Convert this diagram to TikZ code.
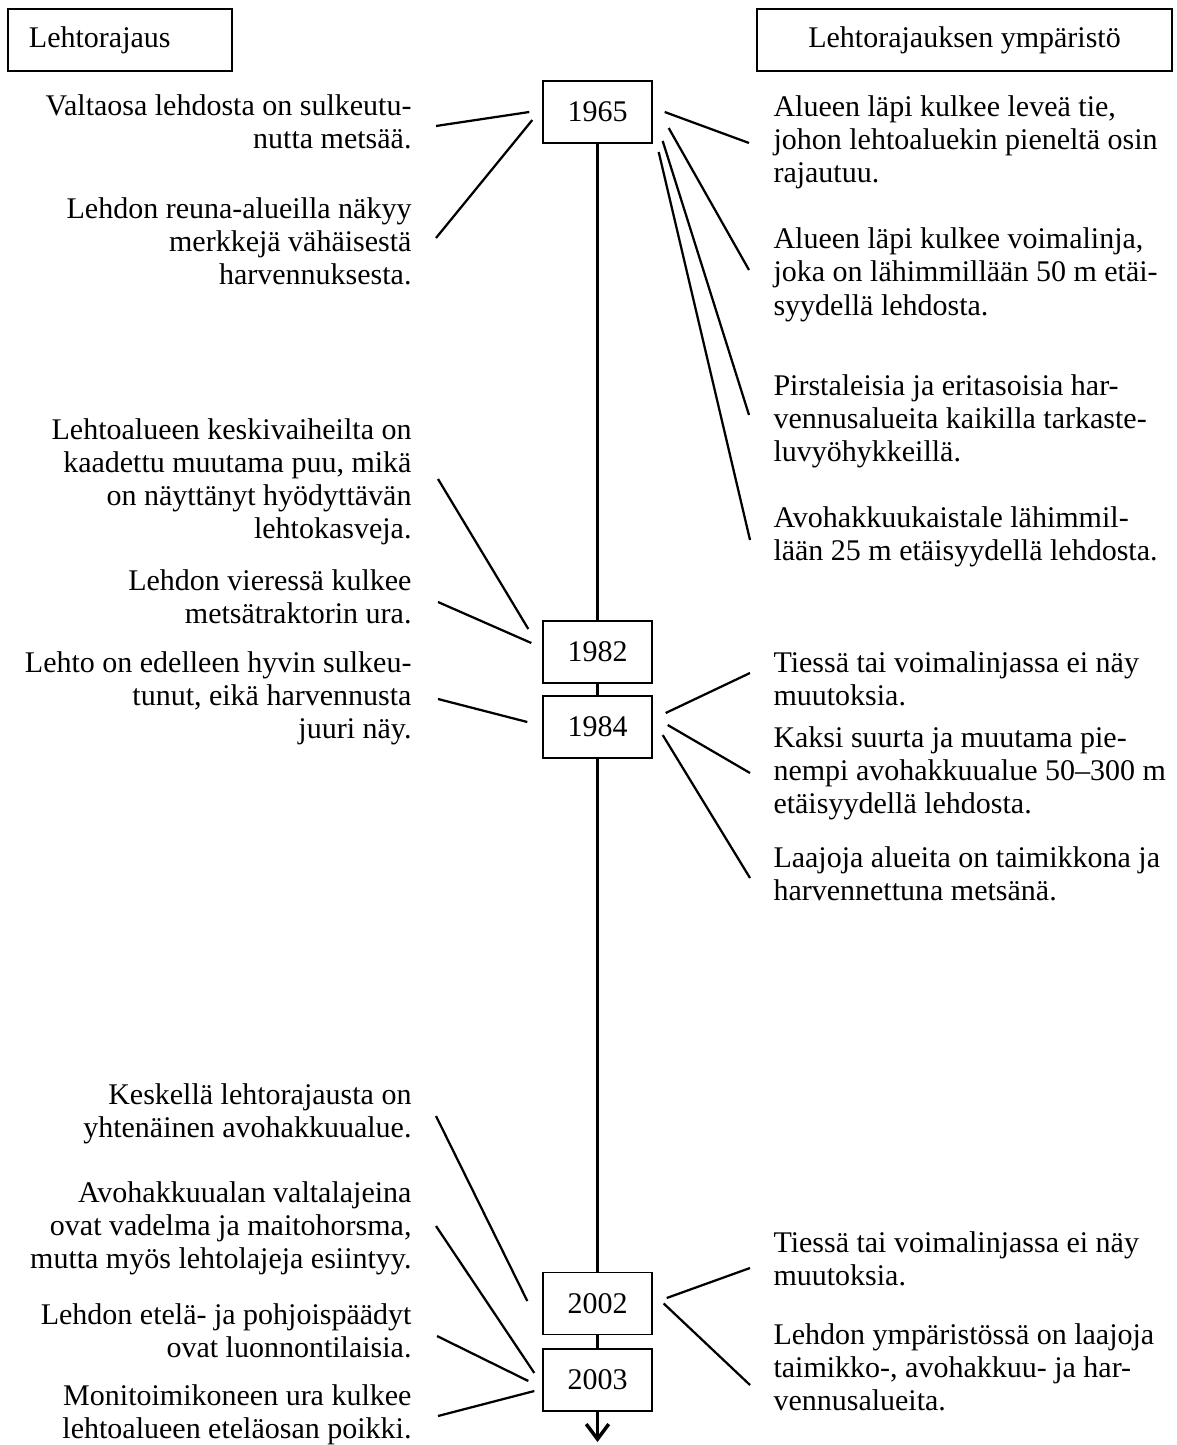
\documentclass[tikz,border=0pt]{standalone}
\usepackage{fontspec}
\setmainfont{Liberation Serif}
\usetikzlibrary{arrows.meta,calc}

\tikzset{
  yearbox/.style={draw,line width=0.55pt,fill=white,minimum width=43.6pt,minimum height=24.8pt,inner sep=0pt},
  headbox/.style={draw,line width=0.55pt,minimum height=24.8pt,inner sep=0pt},
  lefttxt/.style={anchor=base east,align=right,inner sep=0pt},
  righttxt/.style={anchor=base west,align=left,inner sep=0pt},
  conn/.style={line width=0.9pt},
  timeaxis/.style={line width=1.4pt}
}

\begin{document}
\begin{tikzpicture}[x=0.4pt,y=-0.4pt,font=\fontsize{12}{13.2}\selectfont]
\useasboundingbox (0,0) rectangle (1176,1445);

% Headers
\node[headbox,minimum width=89.6pt,text width=72.8pt,align=left] (hleft) at (120,40) {Lehtorajaus};
\node[headbox,minimum width=166pt,align=center] (hright) at (964.5,40) {Lehtorajauksen ympäristö};

% Years
\node[yearbox] (y1965) at (597.5,112) {1965};
\node[yearbox] (y1982) at (597.5,652) {1982};
\node[yearbox] (y1984) at (597.5,727) {1984};
\node[yearbox] (y2002) at (597.5,1303.5) {2002};
\node[yearbox] (y2003) at (597.5,1380) {2003};
\coordinate (tend) at (597.5,1442);

% Time axis
\draw[timeaxis] (y1965) -- (y1982);
\draw[timeaxis] (y1982) -- (y1984);
\draw[timeaxis] (y1984) -- (y2002);
\draw[timeaxis] (y2002) -- (y2003);
\draw[timeaxis,-{Straight Barb[length=6pt,width=9pt]}] (y2003) -- (tend);

% Left column (placed by the baseline of the last line)
\node[lefttxt] (l1) at (412,149) {Valtaosa lehdosta on sulkeutu-\\nutta metsää.};
\node[lefttxt] (l2) at (412,285) {Lehdon reuna-alueilla näkyy\\merkkejä vähäisestä\\harvennuksesta.};
\node[lefttxt] (l3) at (412,538) {Lehtoalueen keskivaiheilta on\\kaadettu muutama puu, mikä\\on näyttänyt hyödyttävän\\lehtokasveja.};
\node[lefttxt] (l4) at (412,623) {Lehdon vieressä kulkee\\metsätraktorin ura.};
\node[lefttxt] (l5) at (412,738) {Lehto on edelleen hyvin sulkeu-\\tunut, eikä harvennusta\\juuri näy.};
\node[lefttxt] (l6) at (412,1137) {Keskellä lehtorajausta on\\yhtenäinen avohakkuualue.};
\node[lefttxt] (l7) at (412,1268) {Avohakkuualan valtalajeina\\ovat vadelma ja maitohorsma,\\mutta myös lehtolajeja esiintyy.};
\node[lefttxt] (l8) at (412,1357) {Lehdon etelä- ja pohjoispäädyt\\ovat luonnontilaisia.};
\node[lefttxt] (l9) at (412,1438) {Monitoimikoneen ura kulkee\\lehtoalueen eteläosan poikki.};

% Right column
\node[righttxt] (r1) at (773,183) {Alueen läpi kulkee leveä tie,\\johon lehtoaluekin pieneltä osin\\rajautuu.};
\node[righttxt] (r2) at (773,315) {Alueen läpi kulkee voimalinja,\\joka on lähimmillään 50 m etäi-\\syydellä lehdosta.};
\node[righttxt] (r3) at (773,461) {Pirstaleisia ja eritasoisia har-\\vennusalueita kaikilla tarkaste-\\luvyöhykkeillä.};
\node[righttxt] (r4) at (773,560) {Avohakkuukaistale lähimmil-\\lään 25 m etäisyydellä lehdosta.};
\node[righttxt] (r5) at (773,705) {Tiessä tai voimalinjassa ei näy\\muutoksia.};
\node[righttxt] (r6) at (773,813) {Kaksi suurta ja muutama pie-\\nempi avohakkuualue 50–300 m\\etäisyydellä lehdosta.};
\node[righttxt] (r7) at (773,900) {Laajoja alueita on taimikkona ja\\harvennettuna metsänä.};
\node[righttxt] (r8) at (773,1285) {Tiessä tai voimalinjassa ei näy\\muutoksia.};
\node[righttxt] (r9) at (773,1410) {Lehdon ympäristössä on laajoja\\taimikko-, avohakkuu- ja har-\\vennusalueita.};

% Connections, left
\draw[conn] ($(l1.base east)+(24,-23)$) -- ($(y1965.west)+(-13,0)$);
\draw[conn] ($(l2.base east)+(24,-47)$) -- ($(y1965.west)+(-10,8)$);
\draw[conn] ($(l3.base east)+(26,-59)$) -- ($(y1982.west)+(-14,-23)$);
\draw[conn] ($(l4.base east)+(26,-21)$) -- ($(y1982.west)+(-11,-9)$);
\draw[conn] ($(l5.base east)+(26,-39)$) -- ($(y1984.west)+(-15,-5)$);
\draw[conn] ($(l6.base east)+(24,-21)$) -- ($(y2002.west)+(-15,-2.5)$);
\draw[conn] ($(l7.base east)+(24,-42)$) -- ($(y2003.west)+(-8,-7)$);
\draw[conn] ($(l8.base east)+(25,-21)$) -- ($(y2003.west)+(-14,1)$);
\draw[conn] ($(l9.base east)+(26,-22)$) -- ($(y2003.west)+(-8,11)$);

% Connections, right
\draw[conn] ($(y1965.east)+(12,0)$) -- ($(r1.base west)+(-24,-40)$);
\draw[conn] ($(y1965.east)+(16,16)$) -- ($(r2.base west)+(-24,-45)$);
\draw[conn] ($(y1965.east)+(10,29)$) -- ($(r3.base west)+(-24,-46)$);
\draw[conn] ($(y1965.east)+(6,40)$) -- ($(r4.base west)+(-23,-20)$);
\draw[conn] ($(y1984.east)+(13,-14)$) -- ($(r5.base west)+(-23,-32)$);
\draw[conn] ($(y1984.east)+(15,-2)$) -- ($(r6.base west)+(-23,-40)$);
\draw[conn] ($(y1984.east)+(10,8)$) -- ($(r7.base west)+(-23,-22)$);
\draw[conn] ($(y2002.east)+(14,-5.5)$) -- ($(r8.base west)+(-23,-17)$);
\draw[conn] ($(y2002.east)+(11,0)$) -- ($(r9.base west)+(-23,-25)$);

\end{tikzpicture}
\end{document}
